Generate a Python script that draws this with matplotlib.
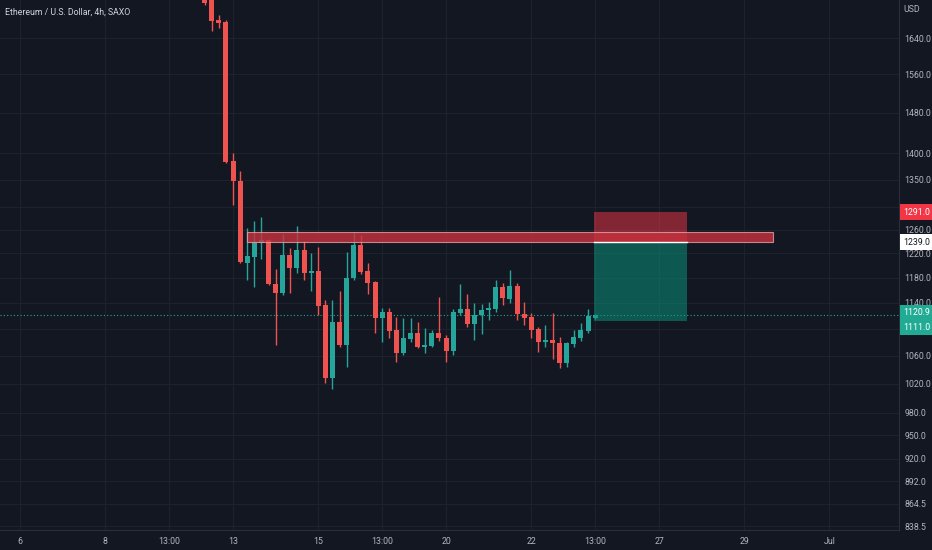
import matplotlib
matplotlib.use("Agg")
import matplotlib.pyplot as plt
import matplotlib.transforms as mtransforms
from matplotlib.patches import Rectangle

# 4h candles, ETHUSD (SAXO)
first_bar = 26  # bar index of the first visible candle (6 bars per trading day)
opens = [1738, 1735, 1681, 1676, 1385, 1347, 1204, 1214, 1237, 1242,
         1170, 1155, 1217, 1195, 1225, 1187, 1190, 1136, 1028, 1110,
         1075, 1179, 1234, 1190, 1173, 1116, 1125, 1098, 1064, 1084,
         1093, 1072, 1074, 1093, 1086, 1067, 1124, 1130, 1107, 1121,
         1128, 1130, 1165, 1146, 1166, 1122, 1118, 1099, 1080, 1083,
         1078, 1049, 1077, 1086, 1096, 1116]
highs = [1745, 1738, 1693, 1680, 1400, 1366, 1263, 1275, 1282, 1245,
         1194, 1253, 1229, 1267, 1241, 1220, 1230, 1144, 1144, 1158,
         1222, 1256, 1251, 1204, 1175, 1131, 1131, 1118, 1116, 1116,
         1110, 1101, 1098, 1149, 1090, 1130, 1170, 1153, 1139, 1138,
         1141, 1176, 1171, 1192, 1171, 1141, 1124, 1102, 1105, 1124,
         1087, 1080, 1098, 1108, 1130, 1122]
lows = [1716, 1656, 1663, 1381, 1304, 1203, 1176, 1165, 1210, 1168,
        1075, 1152, 1155, 1187, 1176, 1158, 1121, 1021, 1012, 1072,
        1043, 1176, 1186, 1153, 1093, 1080, 1086, 1051, 1061, 1080,
        1071, 1064, 1072, 1081, 1051, 1061, 1121, 1102, 1083, 1092,
        1113, 1125, 1136, 1139, 1113, 1105, 1086, 1065, 1072, 1055,
        1042, 1043, 1072, 1081, 1093, 1115]
closes = [1722, 1679, 1675, 1383, 1347, 1205, 1215, 1239, 1242, 1170,
          1155, 1217, 1195, 1225, 1187, 1190, 1135, 1028, 1110, 1075,
          1179, 1234, 1189, 1171, 1116, 1125, 1096, 1064, 1086, 1093,
          1072, 1075, 1093, 1086, 1067, 1125, 1130, 1107, 1121, 1128,
          1132, 1165, 1147, 1166, 1122, 1116, 1098, 1080, 1083, 1078,
          1049, 1078, 1087, 1098, 1119, 1120.9]

# resistance zone and short position (stop / entry / target)
zone_low, zone_high = 1239.0, 1256.0
zone_start, zone_end = 32, 106
stop_price, entry_price, target_price = 1291.0, 1239.0, 1111.0
pos_start, pos_end = 80.85, 93.9
last_price = 1120.9

y_ticks = [1640, 1560, 1480, 1400, 1350, 1300, 1260, 1220, 1180, 1140,
           1100, 1060, 1020, 980, 950, 920, 892, 864.5, 838.5]
x_tick_pos = [0, 12, 21, 30, 42, 51, 60, 72, 81, 90, 102, 114]
x_tick_labels = ["6", "8", "13:00", "13", "15", "13:00", "20", "22",
                 "13:00", "27", "29", "Jul"]

bg = "#131722"
grid = "#1e222d"
txt = "#b2b5be"
up = "#26a69a"
down = "#ef5350"

plt.rcParams["font.family"] = ["Roboto", "DejaVu Sans"]

fig = plt.figure(figsize=(9.32, 5.5), dpi=100, facecolor=bg)
ax = fig.add_axes([0, 20 / 550, 899 / 932, 530 / 550], facecolor=bg)

ax.set_yscale("log")
ax.set_ylim(834, 1728)
ax.set_xlim(-2.82, 123.8)

for i in range(len(opens)):
    x = first_bar + i
    o, h, l, c = opens[i], highs[i], lows[i], closes[i]
    col = up if c >= o else down
    ax.vlines(x, l, h, color=col, lw=1, zorder=3)
    ax.bar(x, abs(c - o), bottom=min(o, c), width=0.7, color=col,
           linewidth=0, zorder=4)

# position tool
ax.add_patch(Rectangle((pos_start, entry_price), pos_end - pos_start,
                       stop_price - entry_price, facecolor="#f23645",
                       alpha=0.5, lw=0, zorder=5))
ax.add_patch(Rectangle((pos_start, target_price), pos_end - pos_start,
                       entry_price - target_price, facecolor="#089981",
                       alpha=0.5, lw=0, zorder=5))
ax.plot([pos_start, pos_end], [entry_price, entry_price], color="white",
        lw=1, zorder=7)

# zone
ax.add_patch(Rectangle((zone_start, zone_low), zone_end - zone_start,
                       zone_high - zone_low, facecolor="#c8323e",
                       edgecolor="#e8a0a6", alpha=0.8, lw=0.8, zorder=6))

ax.axhline(last_price, color=up, lw=0.8, ls=(0, (1, 2)), zorder=2)

ax.yaxis.tick_right()
ax.set_yticks(y_ticks)
ax.set_yticklabels([f"{v:.1f}" for v in y_ticks])
ax.yaxis.set_minor_locator(matplotlib.ticker.NullLocator())
ax.set_xticks(x_tick_pos)
ax.set_xticklabels(x_tick_labels)
ax.tick_params(axis="both", length=0, colors=txt, labelsize=6.3)
ax.tick_params(axis="y", pad=4)
ax.tick_params(axis="x", pad=5)
ax.grid(True, color=grid, lw=0.8)
ax.set_axisbelow(True)

for s in ["top", "left"]:
    ax.spines[s].set_visible(False)
for s in ["right", "bottom"]:
    ax.spines[s].set_color("#2a2e39")

# price labels on the scale (the two close ones are pushed apart, as on the chart)
trans = mtransforms.blended_transform_factory(ax.transAxes, ax.transData)
labels = [(stop_price, "#f23645", "white", 0), (entry_price, "white", "#131722", 0),
          (last_price, "#22ab94", "white", 1.4), (target_price, "#22ab94", "white", -4.3)]
for price, fc, tc, dy in labels:
    ax.annotate(f"{price:.1f}", xy=(1.0, price), xycoords=trans,
                xytext=(3, dy), textcoords="offset points", ha="left",
                va="center", fontsize=6.3, color=tc, annotation_clip=False,
                zorder=10,
                bbox=dict(boxstyle="square,pad=0.4", fc=fc, ec="none"))

fig.text(5 / 932, 1 - 12 / 550, "Ethereum / U.S. Dollar, 4h, SAXO",
         color="#d1d4dc", fontsize=6.3, va="center")
fig.text(903 / 932, 1 - 10 / 550, "USD", color=txt, fontsize=6.3,
         va="center")

fig.savefig("out.png", dpi=100, facecolor=bg)
